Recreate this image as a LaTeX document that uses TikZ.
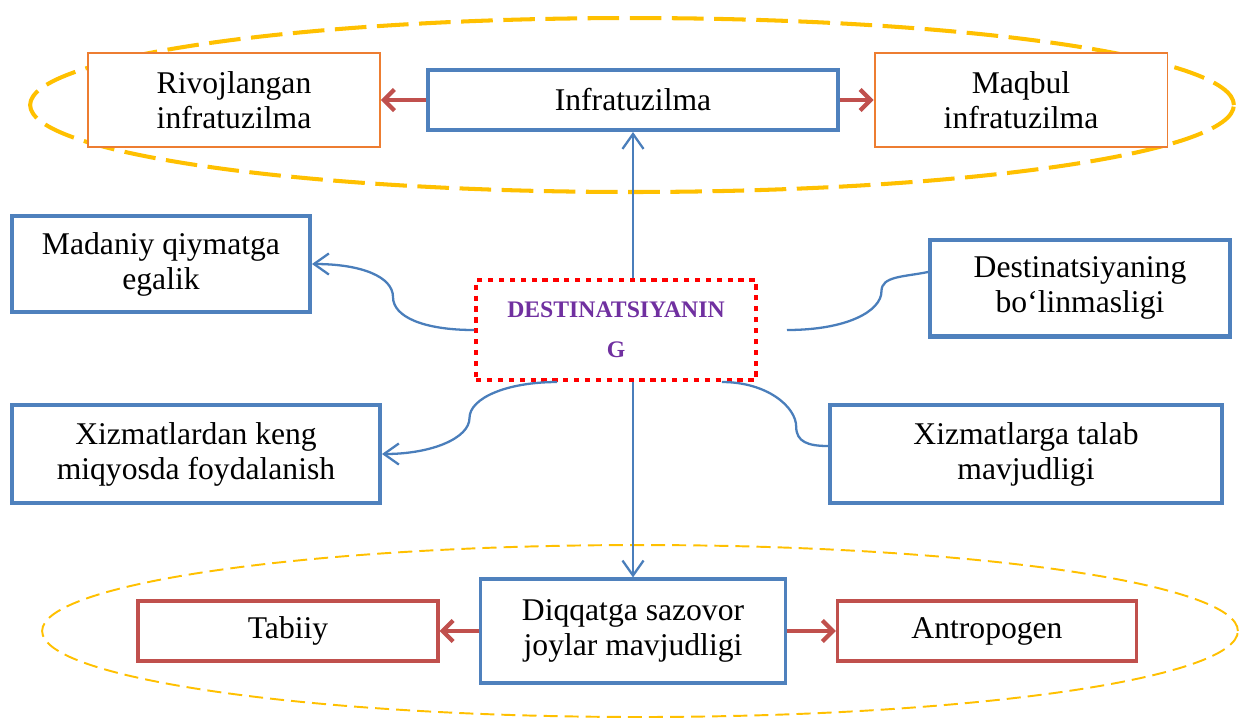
\documentclass[tikz,border=0pt]{standalone}
\usepackage{fontspec}
\setmainfont{Liberation Serif}
\usetikzlibrary{arrows.meta,calc}
\definecolor{boxblue}{HTML}{4F81BD}
\definecolor{linkblue}{HTML}{4A7EBB}
\definecolor{boxred}{HTML}{C0504D}
\definecolor{boxorange}{HTML}{ED7D31}
\definecolor{ringgold}{HTML}{FFC000}
\definecolor{titlepurple}{HTML}{7030A0}

\begin{document}
\begin{tikzpicture}
  [x=0.02cm,y=-0.02cm,
   every node/.style={rectangle,align=center,fill=white,font=\fontsize{18}{20}\selectfont},
   bluebox/.style={draw=boxblue,line width=2.3pt},
   orangebox/.style={draw=boxorange,line width=1.1pt},
   redbox/.style={draw=boxred,line width=1.9pt},
   link/.style={draw=linkblue,line width=1.3pt},
   linkarrow/.style={link,-{Straight Barb[length=8.5pt,width=12pt]}},
   redarrow/.style={draw=boxred,line width=2.4pt,-{Straight Barb[length=6pt,width=12pt]}}]

  \useasboundingbox (0,0) rectangle (1240,725);

  % dashed rings
  \draw[ringgold,line width=2.3pt,dash pattern=on 18pt off 6pt] (632,105) ellipse [x radius=12.04cm,y radius=1.74cm];
  \draw[ringgold,line width=1.1pt,dash pattern=on 8pt off 4pt] (640,631) ellipse [x radius=11.96cm,y radius=1.72cm];

  \node[orangebox,minimum width=5.84cm,minimum height=1.88cm] (rivoj) at (234,100) {Rivojlangan\\infratuzilma};
  \node[bluebox,minimum width=8.2cm,minimum height=1.2cm] (infra) at (633,100) {Infratuzilma};
  \node[orangebox,minimum width=5.86cm,minimum height=1.88cm] (maqbul) at (1021,100) {Maqbul\\infratuzilma};

  \node[bluebox,minimum width=5.96cm,minimum height=1.92cm] (madaniy) at (161,264) {Madaniy qiymatga\\egalik};
  \node[bluebox,minimum width=6cm,minimum height=1.94cm] (destb) at (1080,288) {Destinatsiyaning\\bo‘linmasligi};
  \node[draw=red,line width=2.3pt,dash pattern=on 3pt off 3.2pt,minimum width=5.6cm,minimum height=2cm,
        text=titlepurple,font=\fontsize{13.5}{22.7}\selectfont\bfseries] (dest) at (616,330) {DESTINATSIYANIN\\G};

  \node[bluebox,minimum width=7.36cm,minimum height=1.96cm] (xizd) at (196,454) {Xizmatlardan keng\\miqyosda foydalanish};
  \node[bluebox,minimum width=7.84cm,minimum height=1.96cm] (xizt) at (1026,454) {Xizmatlarga talab\\mavjudligi};

  \node[bluebox,line width=1.8pt,minimum width=6.1cm,minimum height=2.08cm] (diq) at (633,631) {Diqqatga sazovor\\joylar mavjudligi};
  \node[redbox,minimum width=6cm,minimum height=1.2cm] (tabiiy) at (288,631) {Tabiiy};
  \node[redbox,minimum width=5.98cm,minimum height=1.2cm] (antro) at (987,631) {Antropogen};

  \foreach \from/\to in {infra/rivoj,infra/maqbul,diq/tabiiy,diq/antro}
    \draw[redarrow] (\from) -- (\to);

  \draw[linkarrow] (dest.north -| infra.south) -- (infra.south);
  \draw[linkarrow] (dest.south -| diq.north) -- (diq.north);

  % curved links
  \coordinate (dr) at ([xshift=0.58cm]dest.east);
  \coordinate (dbl) at ([xshift=-1.18cm]dest.south);
  \coordinate (dbr) at ([xshift=2.12cm]dest.south);
  \draw[linkarrow] (dest.west) .. controls +(-50,0) and +(0,20) .. ($(dest.west)!0.5!(madaniy.east)$)
    .. controls +(0,-20) and +(50,0) .. (madaniy.east);
  \draw[link] (dr) .. controls +(60,0) and +(0,20) .. ($(dr)!0.67!([yshift=0.32cm]destb.west)$)
    .. controls +(0,-15) and +(-25,5) .. ([yshift=0.32cm]destb.west);
  \draw[linkarrow] (dbl) .. controls +(-50,0) and +(0,-20) .. ($(dbl)!0.5!(xizd.east)$)
    .. controls +(0,20) and +(50,0) .. (xizd.east);
  \draw[link] (dbr) .. controls +(45,0) and +(0,-20) .. ($(dbr)!0.7!([yshift=0.16cm]xizt.west)$)
    .. controls +(0,15) and +(-20,0) .. ([yshift=0.16cm]xizt.west);

\end{tikzpicture}
\end{document}
